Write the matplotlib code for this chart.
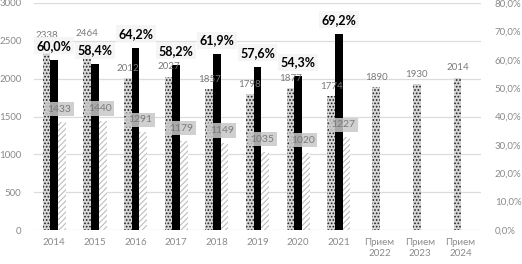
import matplotlib
matplotlib.use("Agg")
import matplotlib.pyplot as plt
import numpy as np

categories = ["2014", "2015", "2016", "2017", "2018", "2019", "2020", "2021",
              "Прием\n2022", "Прием\n2023", "Прием\n2024"]
applicants = [2338, 2464, 2012, 2027, 1857, 1798, 1877, 1774, 1890, 1930, 2014]
enrolled = [1433, 1440, 1291, 1179, 1149, 1035, 1020, 1227]
share_pct = [60.0, 58.4, 64.2, 58.2, 61.9, 57.6, 54.3, 69.2]

plt.rcParams['font.family'] = ['Lato', 'DejaVu Sans']

fig = plt.figure(figsize=(5.22, 2.64), dpi=100)
ax = fig.add_axes([34/522, 1-230/264, 447/522, 227/264])
ax2 = ax.twinx()

ax.set_ylim(0, 3000)
ax2.set_ylim(0, 80)
ax.set_xlim(-0.5, len(categories) - 0.5)

tick_col = '#8a8a8a'
lbl_col = '#7a7a7a'

ax.set_yticks(np.arange(0, 3001, 500))
ax2.set_yticks(np.arange(0, 81, 10))
ax2.set_yticklabels([f"{v:.1f}%".replace('.', ',') for v in np.arange(0, 81, 10)])
ax.set_xticks(range(len(categories)))
ax.set_xticklabels(categories)
for a in (ax, ax2):
    for s in a.spines.values():
        s.set_visible(False)
    a.tick_params(length=0, labelsize=7, colors=tick_col)
ax.tick_params(axis='y', pad=9)
ax2.tick_params(axis='y', pad=10)
ax.tick_params(axis='x', pad=6)
ax.set_axisbelow(True)
ax.yaxis.grid(True, color='#dcdcdc', lw=0.9)

w = 0.19
plt.rcParams['hatch.linewidth'] = 0.8
n_hist = len(share_pct)
x = np.arange(len(categories))
off_dot = np.array([-0.19] * n_hist + [-0.08] * (len(categories) - n_hist))
xd = x + off_dot
ax.bar(xd, applicants, width=w, color='#d8d8d8', edgecolor='#202020',
       hatch='.....', lw=0, zorder=2)
xh = x[:n_hist]
ax2.bar(xh, share_pct, width=w, color='black', lw=0, zorder=3)
ax.bar(xh + 0.19, enrolled, width=w, color='white', edgecolor='#bdbdbd',
       hatch='//////', lw=0, zorder=2)

for i, (xi, v) in enumerate(zip(xd, applicants)):
    dy = 13 if i == 0 else 7
    ax2.annotate(str(v), (xi, v), xycoords=ax.transData, xytext=(0, dy),
                 textcoords='offset points', ha='center', va='center',
                 fontsize=7, color=lbl_col, zorder=5)
for xi, v in zip(xh, enrolled):
    ax2.annotate(str(v), (xi + 0.12, v), xycoords=ax.transData, xytext=(0, 9),
                 textcoords='offset points', ha='center', va='center',
                 fontsize=7.5, color=lbl_col, zorder=6,
                 bbox=dict(boxstyle='square,pad=0.25', fc='#c8c8c8', ec='none', alpha=0.85))
for xi, v in zip(xh, share_pct):
    ax2.annotate(f"{v:.1f}%".replace('.', ','), (xi, v), xytext=(0, 10),
                 textcoords='offset points', ha='center', va='center',
                 fontsize=9, fontweight='bold', color='black', zorder=7,
                 bbox=dict(boxstyle='square,pad=0.2', fc='#f4f4f4', ec='none', alpha=0.9))

fig.savefig("out.png", dpi=100)
